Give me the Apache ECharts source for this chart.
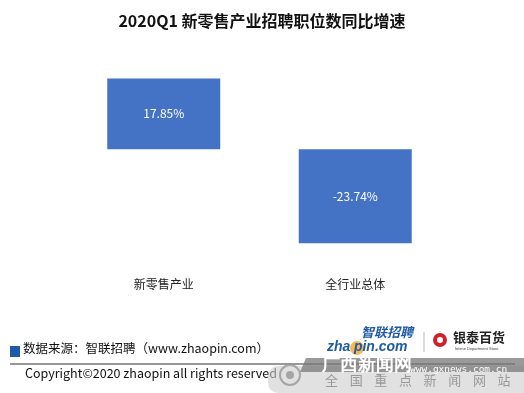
<!DOCTYPE html>
<html><head><meta charset="utf-8">
<script src="https://cdn.jsdelivr.net/npm/echarts@6/dist/echarts.min.js"></script>
<style>html,body{margin:0;padding:0;background:#fff}#c{width:524px;height:393px}</style>
</head><body><div id="c"></div>
<script>
const categories = ['新零售产业', '全行业总体'];
const values = [17.85, -23.74];
const titleText = '2020Q1 新零售产业招聘职位数同比增速';
const sourceText = '数据来源：智联招聘（www.zhaopin.com）';
const copyrightText = 'Copyright©2020 zhaopin all rights reserved';

const font = '"Microsoft YaHei","Noto Sans CJK SC",sans-serif';
const chart = echarts.init(document.getElementById('c'), null, {renderer: 'canvas'});
chart.setOption({
  animation: false,
  backgroundColor: '#fff',
  title: {
    text: titleText, left: 'center', top: 8,
    textStyle: {fontSize: 16, fontWeight: 'bold', color: '#111', fontFamily: font}
  },
  grid: {left: 68, right: 73, top: 70, height: 198},
  xAxis: {
    type: 'category', data: categories,
    axisLine: {show: false, onZero: false}, axisTick: {show: false},
    axisLabel: {color: '#222', fontSize: 12, margin: 10, fontFamily: font}
  },
  yAxis: {
    type: 'value', min: -30, max: 20, show: false, splitLine: {show: false}
  },
  series: [{
    type: 'bar', data: values, barWidth: '59%',
    itemStyle: {color: '#4472C4'},
    label: {
      show: true, position: 'inside', color: '#fff', fontSize: 12, fontFamily: font,
      formatter: p => p.value.toFixed(2) + '%'
    }
  }],
  graphic: [
    {type: 'rect', shape: {x: 10, y: 346, width: 10, height: 11}, style: {fill: '#1F5AA6'}},
    {type: 'text', x: 23, y: 342, style: {text: sourceText, fill: '#111', font: '12.5px ' + font}},
    {type: 'line', shape: {x1: 10, y1: 364, x2: 515, y2: 364}, style: {stroke: '#333', lineWidth: 1}},
    {type: 'text', x: 25, y: 367, style: {text: copyrightText, fill: '#111', font: '12.5px ' + font}},
    // logos
    {type: 'text', x: 361, y: 326, style: {text: '智联招聘', fill: '#1F5AA6', font: 'italic bold 13px ' + font}},
    {type: 'text', x: 327, y: 340, style: {text: 'zha', fill: '#1F5AA6', font: 'italic bold 14px Arial,sans-serif'}},
    {type: 'circle', shape: {cx: 357, cy: 348, r: 7}, style: {fill: '#F5A623', opacity: 0.8}},
    {type: 'text', x: 350, y: 340, style: {text: ' pin.com', fill: '#1F5AA6', font: 'italic bold 14px Arial,sans-serif'}},
    {type: 'line', shape: {x1: 424, y1: 332, x2: 424, y2: 352}, style: {stroke: '#bbb', lineWidth: 1}},
    {type: 'circle', shape: {cx: 440, cy: 340, r: 7}, style: {fill: '#D0202E'}},
    {type: 'circle', shape: {cx: 440, cy: 340, r: 3}, style: {fill: '#fff'}},
    {type: 'text', x: 453, y: 331, style: {text: '银泰百货', fill: '#222', font: 'bold 13px ' + font}},
    {type: 'text', x: 455, y: 347, style: {text: 'Intime Department Store', fill: '#444', font: '4px sans-serif'}},
    // watermark
    {type: 'rect', shape: {x: 268, y: 366, width: 256, height: 27, r: [10, 0, 0, 10]}, style: {fill: 'rgba(205,205,205,0.6)'}},
    {type: 'polygon', shape: {points: [[306, 358], [524, 358], [524, 372], [300, 372]]}, style: {fill: 'rgba(120,120,120,0.75)'}},
    {type: 'circle', shape: {cx: 290, cy: 375, r: 10}, style: {fill: 'none', stroke: 'rgba(150,150,150,0.8)', lineWidth: 2}},
    {type: 'circle', shape: {cx: 290, cy: 375, r: 4}, style: {fill: 'rgba(150,150,150,0.8)'}},
    {type: 'text', x: 322, y: 356, style: {text: '广西新闻网', fill: '#fff', font: 'bold 18px serif'}},
    {type: 'text', x: 410, y: 365, style: {text: 'www.gxnews.com.cn', fill: '#fff', font: '9.5px monospace'}},
    {type: 'text', x: 325, y: 374, style: {text: '全    国    重    点    新    闻    网    站', fill: '#999', font: '13px ' + font}}
  ]
});
</script></body></html>
